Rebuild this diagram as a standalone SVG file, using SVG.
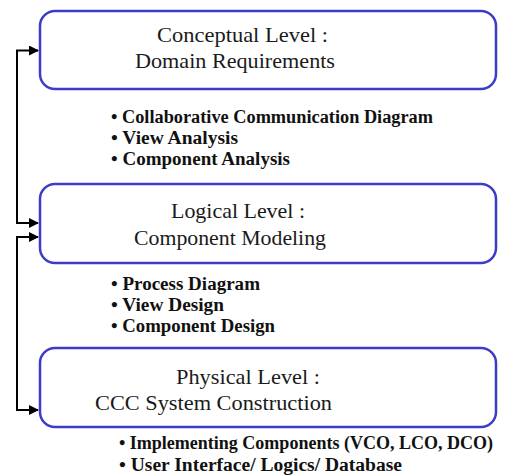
<svg xmlns="http://www.w3.org/2000/svg" width="505" height="476" viewBox="0 0 505 476">
<style>
.box{fill:#fff;stroke:#3c3cc8;stroke-width:2.5}
.title{font-family:"Liberation Serif","DejaVu Serif",serif;font-size:21px;fill:#1a1a1a}
.item{font-family:"Liberation Serif","DejaVu Serif",serif;font-size:18.5px;font-weight:bold;fill:#111}
.conn{fill:none;stroke:#000;stroke-width:2}
</style>
<defs>
<marker id="arr" viewBox="0 0 10 10" refX="9" refY="5" markerWidth="5" markerHeight="5" orient="auto-start-reverse">
<path d="M0,0 L10,5 L0,10 Z" fill="#000"/>
</marker>
</defs>
<rect width="505" height="476" fill="#fff"/>
<g id="connectors">
<path class="conn" d="M38,50.5 H17 V223 H38" marker-start="url(#arr)" marker-end="url(#arr)"/>
<path class="conn" d="M38,237 H17 V410 H38" marker-start="url(#arr)" marker-end="url(#arr)"/>
</g>
<g id="conceptual">
<rect class="box" x="40" y="11" width="456" height="78" rx="15"/>
<text class="title" x="157" y="42" textLength="171" lengthAdjust="spacingAndGlyphs">Conceptual Level :</text>
<text class="title" x="135" y="68" textLength="200" lengthAdjust="spacingAndGlyphs">Domain Requirements</text>
</g>
<g id="conceptual-items">
<text class="item" x="111" y="123" textLength="322" lengthAdjust="spacingAndGlyphs">• Collaborative Communication Diagram</text>
<text class="item" x="111" y="144" textLength="127" lengthAdjust="spacingAndGlyphs">• View Analysis</text>
<text class="item" x="111" y="165" textLength="179" lengthAdjust="spacingAndGlyphs">• Component Analysis</text>
</g>
<g id="logical">
<rect class="box" x="40" y="184" width="456" height="79" rx="15"/>
<text class="title" x="171" y="218" textLength="134" lengthAdjust="spacingAndGlyphs">Logical Level :</text>
<text class="title" x="134" y="245" textLength="192" lengthAdjust="spacingAndGlyphs">Component Modeling</text>
</g>
<g id="logical-items">
<text class="item" x="111" y="290" textLength="149" lengthAdjust="spacingAndGlyphs">• Process Diagram</text>
<text class="item" x="111" y="311" textLength="113" lengthAdjust="spacingAndGlyphs">• View Design</text>
<text class="item" x="111" y="332" textLength="164" lengthAdjust="spacingAndGlyphs">• Component Design</text>
</g>
<g id="physical">
<rect class="box" x="40" y="348" width="456" height="79" rx="15"/>
<text class="title" x="176" y="384" textLength="144" lengthAdjust="spacingAndGlyphs">Physical Level :</text>
<text class="title" x="95" y="410" textLength="237" lengthAdjust="spacingAndGlyphs">CCC System Construction</text>
</g>
<g id="physical-items">
<text class="item" x="119" y="449" textLength="374" lengthAdjust="spacingAndGlyphs">• Implementing Components (VCO, LCO, DCO)</text>
<text class="item" x="119" y="471" textLength="283" lengthAdjust="spacingAndGlyphs">• User Interface/ Logics/ Database</text>
</g>
</svg>
